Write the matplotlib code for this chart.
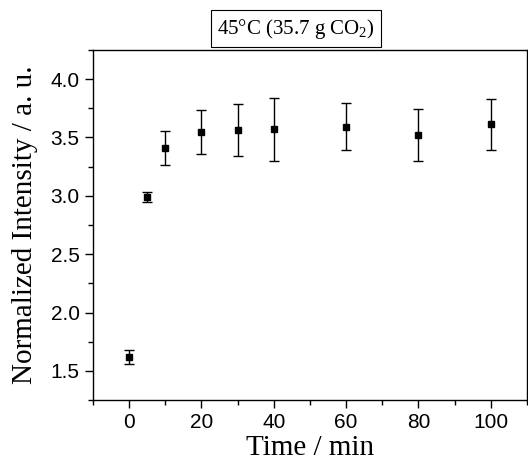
import matplotlib
matplotlib.use("Agg")
import matplotlib.pyplot as plt
from matplotlib.ticker import MultipleLocator

time_min = [0, 5, 10, 20, 30, 40, 60, 80, 100]
intensity = [1.62, 2.99, 3.41, 3.545, 3.565, 3.57, 3.593, 3.522, 3.613]
error = [0.06, 0.045, 0.145, 0.19, 0.225, 0.27, 0.20, 0.225, 0.22]

plt.rcParams['font.family'] = ['Liberation Sans']
plt.rcParams['mathtext.fontset'] = 'custom'
plt.rcParams['mathtext.rm'] = 'Liberation Serif'
plt.rcParams['mathtext.it'] = 'Liberation Serif:italic'

fig = plt.figure(figsize=(5.28, 4.62), dpi=100)
ax = fig.add_axes([0.176, 0.134, 0.822, 0.758])

ax.errorbar(time_min, intensity, yerr=error, fmt='s', color='black',
            markersize=5, capsize=3.5, elinewidth=1.0, capthick=1.0,
            ecolor='black')

ax.set_xlim(-10, 110)
ax.set_ylim(1.25, 4.25)
ax.xaxis.set_major_locator(MultipleLocator(20))
ax.xaxis.set_minor_locator(MultipleLocator(10))
ax.yaxis.set_major_locator(MultipleLocator(0.5))
ax.yaxis.set_minor_locator(MultipleLocator(0.25))
ax.tick_params(which='both', direction='out', top=False, right=False, width=1.0)
ax.tick_params(which='major', length=6, pad=3.5, labelsize=15)
ax.tick_params(which='minor', length=3.5)
for s in ax.spines.values():
    s.set_linewidth(1.0)

ax.set_xlabel('Time / min', family='Liberation Serif', fontsize=21, labelpad=2)
ax.set_ylabel('Normalized Intensity / a. u.', family='Liberation Serif', fontsize=21, labelpad=9)

fig.text(0.561, 0.938, r'45°C (35.7 g CO$_2$)', family='Liberation Serif',
         fontsize=15, ha='center', va='center',
         bbox=dict(boxstyle='square,pad=0.3', facecolor='white', edgecolor='black', linewidth=0.8))

fig.savefig('out.png', dpi=100)
